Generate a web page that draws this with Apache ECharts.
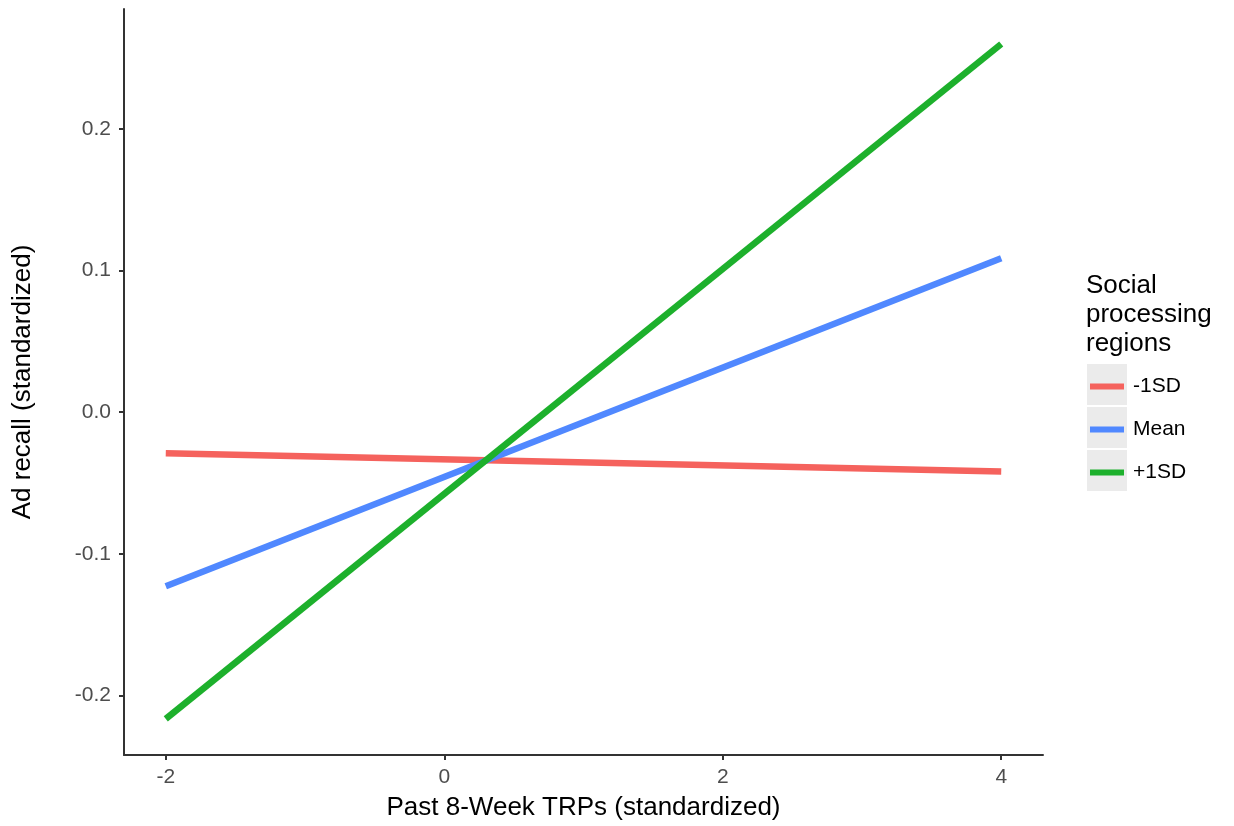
<!DOCTYPE html>
<html>
<head>
<meta charset="utf-8">
<script src="https://cdn.jsdelivr.net/npm/echarts@6/dist/echarts.min.js"></script>
<style>
  html, body { margin: 0; padding: 0; background: #fff; }
  #chart { width: 1234px; height: 826px; }
</style>
</head>
<body>
<div id="chart"></div>
<script>
  // values
  const trps = [-2, 4]
  const minus1SD = [-0.0289, -0.0418]
  const meanVals = [-0.1228, 0.1087]
  const plus1SD = [-0.2165, 0.2600]
  const seriesNames = ['-1SD', 'Mean', '+1SD']
  const colors = ['#F5625D', '#5088FF', '#1DB02C']
  const xTicks = [-2, 0, 2, 4]
  const yTicks = [-0.2, -0.1, 0.0, 0.1, 0.2]

  const font = '"Liberation Sans", Arial, Helvetica, sans-serif'
  const pairs = (vals) => trps.map((x, i) => [x, vals[i]])

  let chart = echarts.init(document.getElementById('chart'))
  let options = {
    animation: false,
    textStyle: { fontFamily: font },
    grid: { left: 124, top: 9, width: 919, height: 748, containLabel: false },
    xAxis: {
      type: 'value',
      min: -2.3,
      max: 4.3,
      name: 'Past 8-Week TRPs (standardized)',
      nameLocation: 'middle',
      nameGap: 40,
      nameTextStyle: { fontSize: 26, color: '#000', fontFamily: font },
      axisLine: { show: true, onZero: false, lineStyle: { color: '#333', width: 2 } },
      axisTick: { show: true, length: 5, lineStyle: { color: '#333', width: 2 }, customValues: xTicks },
      axisLabel: { fontSize: 21, color: '#4D4D4D', margin: 12, customValues: xTicks, formatter: (v) => String(v) },
      splitLine: { show: false }
    },
    yAxis: {
      type: 'value',
      min: -0.242,
      max: 0.2847,
      name: 'Ad recall (standardized)',
      nameLocation: 'middle',
      nameRotate: 90,
      nameGap: 88,
      nameTextStyle: { fontSize: 26, color: '#000', fontFamily: font },
      axisLine: { show: true, onZero: false, lineStyle: { color: '#333', width: 2 } },
      axisTick: { show: true, length: 5, lineStyle: { color: '#333', width: 2 }, customValues: yTicks },
      axisLabel: { fontSize: 21, color: '#4D4D4D', margin: 13, customValues: yTicks, formatter: (v) => v.toFixed(1) },
      splitLine: { show: false }
    },
    legend: {
      orient: 'vertical',
      left: 1090,
      top: 366,
      padding: 0,
      itemWidth: 34,
      itemHeight: 6,
      itemGap: 2,
      icon: 'rect',
      data: seriesNames,
      textStyle: { fontSize: 21, color: '#000', lineHeight: 41, padding: [0, 0, 0, 4], fontFamily: font }
    },
    graphic: [
      { type: 'rect', left: 1087, top: 364, shape: { width: 40, height: 41 }, style: { fill: '#EBEBEB' }, z: -1 },
      { type: 'rect', left: 1087, top: 407, shape: { width: 40, height: 41 }, style: { fill: '#EBEBEB' }, z: -1 },
      { type: 'rect', left: 1087, top: 450, shape: { width: 40, height: 41 }, style: { fill: '#EBEBEB' }, z: -1 },
      {
        type: 'text', left: 1086, top: 271,
        style: { text: 'Social\nprocessing\nregions', fontSize: 26, lineHeight: 29, fill: '#000', fontFamily: font }
      }
    ],
    series: [
      { name: seriesNames[0], type: 'line', data: pairs(minus1SD), showSymbol: false, symbol: 'none', color: colors[0], lineStyle: { width: 6.5, color: colors[0] } },
      { name: seriesNames[1], type: 'line', data: pairs(meanVals), showSymbol: false, symbol: 'none', color: colors[1], lineStyle: { width: 6.5, color: colors[1] } },
      { name: seriesNames[2], type: 'line', data: pairs(plus1SD), showSymbol: false, symbol: 'none', color: colors[2], lineStyle: { width: 6.5, color: colors[2] } }
    ]
  }
  chart.setOption(options)
</script>
</body>
</html>
